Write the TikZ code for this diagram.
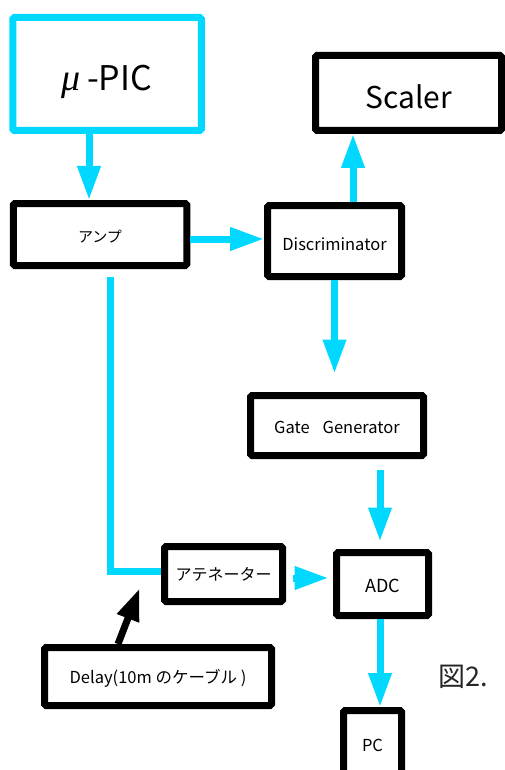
\documentclass[tikz,border=0pt]{standalone}
\usepackage{fontspec}
\setmainfont{Noto Sans CJK JP}
\newfontfamily\mufont{Liberation Serif}
\usetikzlibrary{arrows.meta}
\definecolor{sig}{RGB}{0,216,255}
\newcommand{\dn}[2]{\raisebox{-#1}[\height][\depth]{#2}}
\tikzset{
  blk/.style={draw=black, line width=7pt, rounded corners=1.5pt, fill=white, inner sep=0pt, align=center},
  cbox/.style={blk, draw=sig},
  carrow/.style={draw=sig, line width=7pt, -{Triangle[width=22pt,length=34pt]}},
  cline/.style={draw=sig, line width=7pt},
  karrow/.style={draw=black, line width=7pt, -{Triangle[width=22pt,length=32pt]}},
  lat/.style={font=\fontsize{16.5}{16.5}\selectfont},
}
\begin{document}
\begin{tikzpicture}[x=1pt,y=-1pt]
\useasboundingbox (0,0) rectangle (504,770);
\node[cbox, minimum width=188.5pt, minimum height=113pt, font=\fontsize{34}{34}\selectfont] (pic) at (107,74) {\dn{8pt}{{\mufont\itshape\fontsize{38}{38}\selectfont μ}\hspace{6pt}-PIC}};
\node[blk, minimum width=186pt, minimum height=75pt, font=\fontsize{30}{30}\selectfont] (scaler) at (408.5,93) {\dn{4pt}{Scaler}};
\node[blk, minimum width=173.5pt, minimum height=62pt, font=\fontsize{15}{15}\selectfont] (amp) at (100,234.5) {\dn{2pt}{アンプ}};
\node[blk, lat, minimum width=134pt, minimum height=71pt] (disc) at (334.5,241) {\dn{3pt}{Discriminator}};
\node[blk, lat, minimum width=173pt, minimum height=60pt] (gate) at (337,425.5) {\dn{1.5pt}{Gate\hspace{13pt}Generator}};
\node[blk, minimum width=118pt, minimum height=55pt, font=\fontsize{16}{16}\selectfont] (att) at (223.5,574) {アテネーター};
\node[blk, minimum width=92pt, minimum height=63pt, font=\fontsize{18}{18}\selectfont] (adc) at (382.5,584) {\dn{2pt}{ADC}};
\node[blk, minimum width=227pt, minimum height=58pt, font=\fontsize{16.5}{16.5}\selectfont] (delay) at (158,676.5) {\dn{2pt}{Delay(10m のケーブル )}};
\node[blk, minimum width=58pt, minimum height=71pt, font=\fontsize{16.5}{16.5}\selectfont] (pc) at (372.5,746) {\dn{-1pt}{PC}};
\node[font=\fontsize{27}{27}\selectfont, text=black!85, inner sep=0pt] (fig) at (463,677) {図2.};
% connectors
\draw[carrow] ([xshift=-18pt]pic.south) -- ([xshift=-18pt]pic.south |- amp.north);
\draw[carrow] ([yshift=-4.5pt]amp.east) -- ([yshift=-4.5pt]amp.east -| disc.west);
\draw[carrow] ([xshift=18.5pt]disc.north) -- ([xshift=18.5pt]disc.north |- scaler.south);
\draw[carrow] (disc.south) -- ([yshift=18.5pt]disc.south |- gate.north);
\draw[carrow] ([xshift=43pt,yshift=-10.5pt]gate.south) -- ([xshift=43pt,yshift=7.5pt]gate.south |- adc.north);
\draw[carrow] ([xshift=6.5pt,yshift=-4pt]att.east) -- ([xshift=-4.5pt,yshift=-4pt]att.east -| adc.west);
\draw[carrow] ([xshift=-2.5pt]adc.south) -- ([xshift=-2.5pt]adc.south |- pc.north);
\draw[cline] ([xshift=10pt,yshift=-8pt]amp.south) |- ([yshift=3pt]att.west);
\draw[karrow] ([xshift=-40pt]delay.north) -- ([xshift=-21.5pt,yshift=16.5pt]att.south west);
\end{tikzpicture}
\end{document}
